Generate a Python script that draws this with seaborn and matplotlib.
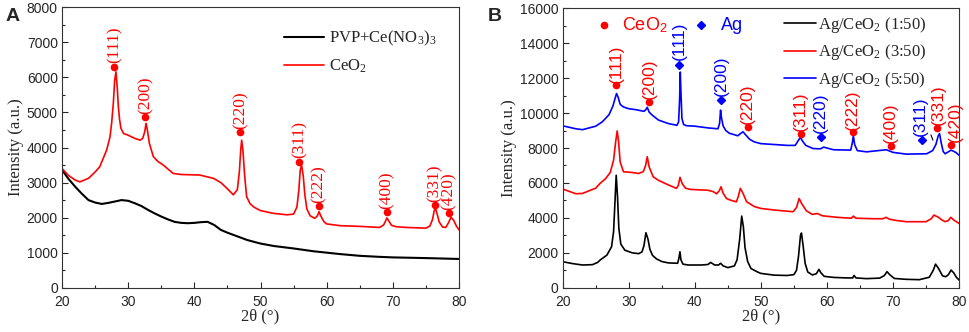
import numpy as np
import pandas as pd
import matplotlib
matplotlib.use("Agg")
import matplotlib.pyplot as plt
from matplotlib.ticker import MultipleLocator
import seaborn as sns

# ---- panel A : precursor vs calcined CeO2 ----
a_x_pvp = [20, 21, 22, 23, 24, 25, 26, 27, 28, 29, 30, 31, 32, 33, 34, 35, 36, 37, 38, 39,
           40, 41, 42, 43, 44, 45, 46, 47, 48, 50, 52, 55, 58, 60, 62, 65, 68, 70, 75, 80]
a_y_pvp = [3360, 3100, 2880, 2680, 2500, 2430, 2390, 2420, 2460, 2500, 2480, 2410, 2330, 2220, 2120, 2030, 1950, 1880, 1850, 1840,
           1850, 1870, 1880, 1790, 1650, 1570, 1500, 1430, 1360, 1260, 1190, 1120, 1040, 1000, 960, 910, 880, 865, 845, 820]

a_x_ceo2 = [20, 21, 22, 22.7, 24, 25, 25.7, 26.75, 27.25, 27.5, 27.75, 27.95, 28.15, 28.35, 28.5, 28.7, 28.9, 29.3, 30, 31,
            31.8, 32.2, 32.5, 32.7, 32.9, 33.2, 33.8, 34.5, 35.3, 36.8, 38, 40.8, 42.9, 44, 44.9, 45.9, 46.5, 46.8, 47.0, 47.15,
            47.35, 47.6, 47.9, 48.4, 49, 50, 52, 54, 55.0, 55.5, 55.8, 56.0, 56.2, 56.45, 56.7, 57.0, 57.5, 58.2, 58.6, 58.85,
            59.1, 59.6, 60, 62, 65, 68, 68.6, 68.9, 69.1, 69.4, 69.8, 70.5, 72, 75, 75.6, 76.0, 76.25, 76.45, 76.7, 77.0,
            77.5, 78.0, 78.4, 78.8, 79.2, 79.6, 80]
a_y_ceo2 = [3400, 3200, 3070, 3020, 3120, 3300, 3450, 3930, 4300, 4700, 5250, 5900, 6160, 5700, 5200, 4800, 4550, 4400, 4350, 4260,
            4210, 4260, 4450, 4690, 4500, 4120, 3740, 3600, 3500, 3260, 3230, 3215, 3120, 3000, 2840, 2650, 2800, 3300, 3900, 4210,
            3900, 3200, 2600, 2400, 2300, 2200, 2120, 2080, 2100, 2300, 2800, 3350, 3500, 3200, 2650, 2250, 2050, 1980, 2050, 2170,
            2050, 1880, 1820, 1770, 1750, 1720, 1790, 1900, 1990, 1900, 1780, 1740, 1720, 1700, 1760, 1950, 2200, 2270, 2100, 1880,
            1730, 1720, 1850, 2010, 1920, 1760, 1650]

a_peak_x = [27.9, 32.6, 46.95, 55.87, 58.84, 69.1, 76.37, 78.5]
a_peak_y = [6305, 4860, 4430, 3595, 2330, 2150, 2360, 2120]
a_peak_hkl = ["(111)", "(200)", "(220)", "(311)", "(222)", "(400)", "(331)", "(420)"]

# ---- panel B : Ag/CeO2 with different Ag loadings ----
b_x_150 = [20, 21.5, 23, 24.5, 25.3, 25.65, 26.7, 27.4, 27.7, 27.9, 28.1, 28.3, 28.5, 28.8, 29.4, 30.5, 31.5, 32, 32.3, 32.6,
           32.9, 33.2, 33.6, 34.2, 35, 36, 37.4, 37.6, 37.75, 37.9, 38.2, 39, 40, 41, 42, 42.4, 43, 43.6, 43.9, 44.3,
           45, 46, 46.4, 46.8, 47.1, 47.35, 47.6, 48, 48.5, 49.5, 50, 52, 54, 55, 55.4, 55.7, 56.0, 56.15, 56.4, 56.7,
           57.1, 57.8, 58.4, 58.8, 59.1, 59.6, 61, 63, 63.9, 64.1, 64.4, 66, 68, 68.7, 69.1, 69.5, 70.2, 72, 74, 75.5,
           76.1, 76.45, 76.9, 77.5, 78.0, 78.4, 78.8, 79.2, 79.6, 80]
b_y_150 = [1490, 1380, 1300, 1320, 1450, 1580, 1870, 2350, 3200, 4800, 6440, 5200, 3400, 2500, 2150, 2000, 1950, 2050, 2400, 3150,
           2800, 2200, 1850, 1650, 1500, 1420, 1400, 1700, 2060, 1600, 1350, 1300, 1300, 1300, 1330, 1450, 1300, 1300, 1400, 1250,
           1150, 1250, 1600, 2800, 4100, 3500, 2300, 1500, 1100, 900, 820, 720, 700, 750, 1000, 1800, 3000, 3130, 2400, 1400,
           900, 730, 800, 1050, 850, 650, 590, 560, 560, 700, 560, 520, 550, 700, 920, 750, 530, 480, 460, 600,
           1000, 1350, 1100, 680, 630, 750, 1010, 850, 600, 440]

b_x_350 = [20, 22, 23, 25, 25.65, 26.5, 27.2, 27.7, 28.0, 28.25, 28.45, 28.7, 29.2, 30.5, 31.5, 32.2, 32.55, 32.8, 33.1, 33.7,
           34.5, 35.5, 37.2, 37.5, 37.76, 38.1, 38.6, 39.3, 42, 42.8, 43.3, 43.7, 43.97, 44.3, 44.8, 45.5, 46.3, 46.6, 46.9, 47.3,
           47.85, 49, 50, 52, 54.9, 55.4, 55.8, 56.2, 56.9, 57.8, 58.55, 59.3, 61.5, 63.7, 64.0, 64.4, 67, 68.5, 68.95, 69.5,
           70.5, 72, 75, 75.8, 76.2, 76.9, 77.4, 77.9, 78.4, 78.75, 79.2, 80]
b_y_350 = [5650, 5380, 5400, 5700, 5970, 6250, 6600, 7300, 8300, 8980, 8400, 7200, 6640, 6600, 6540, 6650, 7000, 7500, 6900, 6350,
           6150, 5970, 5690, 5850, 6320, 5950, 5700, 5630, 5580, 5500, 5380, 5550, 5780, 5400, 5110, 5000, 4920, 5250, 5690, 5400,
           4920, 4650, 4540, 4450, 4350, 4600, 5110, 4800, 4400, 4200, 4250, 4120, 4030, 3980, 4100, 3980, 3950, 3950, 4030, 3920,
           3850, 3780, 3780, 3950, 4160, 4030, 3880, 3780, 3850, 4030, 3880, 3680]

b_x_550 = [20, 22, 23, 25, 26, 27, 27.6, 27.9, 28.15, 28.4, 28.7, 29.2, 30, 31, 32.3, 32.6, 32.8, 33.1, 33.5, 34.5,
           36, 37.3, 37.55, 37.7, 37.8, 37.9, 38.05, 38.3, 38.7, 40, 42, 43.5, 43.75, 43.9, 44.05, 44.3, 44.7, 45.2, 46.5, 47.0,
           47.3, 47.7, 48.3, 49, 50, 52, 54, 55.2, 55.7, 56.0, 56.3, 56.8, 57.9, 59, 59.5, 61, 63.6, 63.85, 64.0, 64.2,
           64.6, 66, 69, 70, 72, 75.1, 76, 76.5, 76.85, 77.05, 77.3, 77.6, 77.9, 78.8, 79.5, 80]
b_y_550 = [9270, 9100, 9050, 9250, 9500, 9900, 10400, 10800, 11120, 10900, 10500, 10350, 10250, 10200, 10100, 10200, 10330, 10050, 9900, 9600,
           9400, 9300, 9500, 10800, 12350, 11200, 9700, 9350, 9280, 9250, 9150, 9100, 9400, 10170, 9700, 9250, 9000, 8850, 8700, 8850,
           8930, 8750, 8500, 8350, 8250, 8200, 8150, 8150, 8450, 8610, 8400, 8150, 7970, 7950, 8050, 7900, 7880, 8300, 8700, 8200,
           7850, 7780, 7900, 7750, 7650, 7670, 7850, 8200, 8700, 8830, 8300, 7800, 7670, 7880, 7750, 7590]

b_ceo2_x = [28.07, 33.07, 48.0, 56.03, 63.9, 69.66, 76.7, 78.8]
b_ceo2_y = [11580, 10640, 9210, 8830, 8890, 8120, 9150, 8160]
b_ceo2_hkl = ["(111)", "(200)", "(220)", "(311)", "(222)", "(400)", "(331)", "(420)"]
b_ag_x = [37.6, 44.0, 59.06, 74.45]
b_ag_y = [12780, 10740, 8640, 8450]
b_ag_hkl = ["(111)", "(200)", "(220)", "(311)"]

sns.set_style("ticks")
plt.rcParams["font.family"] = ["Liberation Sans", "DejaVu Sans"]
plt.rcParams["mathtext.fontset"] = "stix"
plt.rcParams["xtick.direction"] = "in"
plt.rcParams["ytick.direction"] = "in"

serif = ["Liberation Serif", "DejaVu Serif"]

fig = plt.figure(figsize=(9.69, 3.32), dpi=100)
ax1 = fig.add_axes([0.064, 0.1334, 0.4097, 0.8446])
ax2 = fig.add_axes([0.5807, 0.1334, 0.409, 0.8416])

sns.lineplot(x=a_x_pvp, y=a_y_pvp, ax=ax1, color="black", lw=1.5, label="PVP+Ce(NO$_\\mathregular{3}$)$_\\mathregular{3}$")
sns.lineplot(x=a_x_ceo2, y=a_y_ceo2, ax=ax1, color="red", lw=1.2, label="CeO$_\\mathregular{2}$")
ax1.plot(a_peak_x, a_peak_y, "o", color="red", ms=4.5)
for x, y, t in zip(a_peak_x, a_peak_y, a_peak_hkl):
    ax1.annotate(t, (x, y), xytext=(0, 2.5), textcoords="offset points", rotation=90,
                 ha="center", va="bottom", color="red", fontsize=12.5, family=serif)

sns.lineplot(x=b_x_150, y=b_y_150, ax=ax2, color="black", lw=1.2, label="Ag/CeO$_\\mathregular{2}$ (1:50)")
sns.lineplot(x=b_x_350, y=b_y_350, ax=ax2, color="red", lw=1.2, label="Ag/CeO$_\\mathregular{2}$ (3:50)")
sns.lineplot(x=b_x_550, y=b_y_550, ax=ax2, color="blue", lw=1.2, label="Ag/CeO$_\\mathregular{2}$ (5:50)")
ax2.plot(b_ceo2_x, b_ceo2_y, "o", color="red", ms=4.5)
ax2.plot(b_ag_x, b_ag_y, "D", color="blue", ms=4.5)
# crowded labels near 75-79 deg are shifted sideways a little
ceo2_nudge = {"(331)": 0.5, "(420)": 3.0}
ag_nudge = {"(311)": -1.5}
for x, y, t in zip(b_ceo2_x, b_ceo2_y, b_ceo2_hkl):
    ax2.annotate(t, (x, y), xytext=(ceo2_nudge.get(t, 0), 2), textcoords="offset points", rotation=90,
                 ha="center", va="bottom", color="red", fontsize=12.5)
for x, y, t in zip(b_ag_x, b_ag_y, b_ag_hkl):
    ax2.annotate(t, (x, y), xytext=(ag_nudge.get(t, 0), 3), textcoords="offset points", rotation=90,
                 ha="center", va="bottom", color="blue", fontsize=12.5)
ax2.plot([75.75, 76.05], [8750, 8450], color="black", lw=0.8)

# phase key at the top of panel B
ax2.plot([26.25], [15030], "o", color="red", ms=4.5)
ax2.text(29.0, 15030, "CeO$_\\mathregular{2}$", color="red", fontsize=13, va="center", ha="left")
ax2.plot([40.9], [15030], "D", color="blue", ms=4.5)
ax2.text(43.9, 15030, "Ag", color="blue", fontsize=13, va="center", ha="left")

for ax, ymax, ymaj, ymin in [(ax1, 8000, 1000, 500), (ax2, 16000, 2000, 1000)]:
    ax.set_xlim(20, 80)
    ax.set_ylim(0, ymax)
    ax.xaxis.set_major_locator(MultipleLocator(10))
    ax.xaxis.set_minor_locator(MultipleLocator(5))
    ax.yaxis.set_major_locator(MultipleLocator(ymaj))
    ax.yaxis.set_minor_locator(MultipleLocator(ymin))
    ax.tick_params(which="major", length=4, width=0.8, labelsize=10)
    ax.tick_params(which="minor", length=2.5, width=0.8)
    ax.tick_params(axis="x", pad=5)
    ax.tick_params(axis="y", pad=3)
    for s in ax.spines.values():
        s.set_linewidth(0.8)
        s.set_color("#333333")
    ax.set_xlabel("2θ (°)", family=serif, fontsize=12, labelpad=0)
    ax.set_ylabel("Intensity (a.u.)", family=serif, fontsize=12, labelpad=2)

ax1.legend(loc="upper right", frameon=False, prop={"family": serif, "size": 12},
           handlelength=2.4, handletextpad=0.3, labelspacing=0.55, borderaxespad=0.9)
ax2.legend(loc="upper right", bbox_to_anchor=(0.935, 1.0), frameon=False,
           prop={"family": serif, "size": 12},
           handlelength=1.9, handletextpad=0.15, labelspacing=0.45, borderaxespad=0.0)

fig.text(0.006, 0.975, "A", fontsize=14, fontweight="bold", va="top", ha="left")
fig.text(0.503, 0.975, "B", fontsize=14, fontweight="bold", va="top", ha="left")

fig.savefig("out.png", dpi=100)
